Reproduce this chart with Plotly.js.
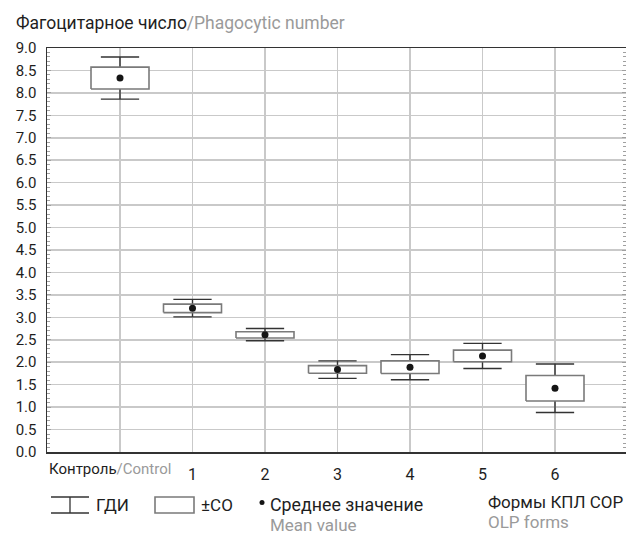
<!DOCTYPE html>
<html>
<head>
<meta charset="utf-8">
<script src="https://cdn.plot.ly/plotly-3.0.1.min.js"></script>
<style>
  html, body { margin: 0; padding: 0; background: #fff; }
  #chart { width: 626px; height: 534px; }
</style>
</head>
<body>
<div id="chart"></div>
<script>
// Phagocytic number by group: mean, ±SD box and confidence-interval whiskers
const categories = ['Контроль/Control', '1', '2', '3', '4', '5', '6'];
const meanValues = [8.33, 3.20, 2.61, 1.84, 1.89, 2.14, 1.42];
const sdValues   = [0.245, 0.095, 0.07, 0.085, 0.14, 0.13, 0.285];
const ciLower    = [7.86, 3.01, 2.48, 1.64, 1.61, 1.86, 0.88];
const ciUpper    = [8.80, 3.40, 2.75, 2.03, 2.17, 2.42, 1.96];
const yTickValues = [0, 0.5, 1, 1.5, 2, 2.5, 3, 3.5, 4, 4.5, 5, 5.5, 6, 6.5, 7, 7.5, 8, 8.5, 9];

const titleMain = 'Фагоцитарное число';
const titleSub = '/Phagocytic number';
const legendCI = 'ГДИ';
const legendSD = '±СО';
const legendMean = ['Среднее значение', 'Mean value'];
const axisNote = ['Формы КПЛ СОР', 'OLP forms'];

const W = 626, H = 534;
const M = { l: 47, r: 0, t: 48, b: 82 };
const FONT = 'Roboto, "Liberation Sans", sans-serif';
const DARK = '#1e1e1e', GREY = '#9a9a9a';

// x axis: one category every 72.5 px, first category 73 px right of the axis
const step = 72.5, firstOffset = 73;
const xRange = [-firstOffset / step, (W - M.l - M.r - firstOffset) / step];
const pos = categories.map((_, i) => i);
const boxHalfWidth = 0.4;

const boxLow = meanValues.map((m, i) => m - sdValues[i]);
const boxHigh = meanValues.map((m, i) => m + sdValues[i]);

// ±SD rectangles as closed outlines, one sub-path per group
const rectX = [], rectY = [];
pos.forEach((p, i) => {
  rectX.push(p - boxHalfWidth, p + boxHalfWidth, p + boxHalfWidth, p - boxHalfWidth, p - boxHalfWidth, null);
  rectY.push(boxLow[i], boxLow[i], boxHigh[i], boxHigh[i], boxLow[i], null);
});

// helpers for placing the legend key in paper units
const plotW = W - M.l - M.r, plotH = H - M.t - M.b;
const px = x => (x - M.l) / plotW;
const py = y => (H - M.b - y) / plotH;

const traces = [
  { // whiskers (confidence interval) with caps; the collapsed box sits under the SD box
    type: 'box', x: pos,
    q1: meanValues, median: meanValues, q3: meanValues,
    lowerfence: ciLower, upperfence: ciUpper,
    width: boxHalfWidth * 2, whiskerwidth: 0.66,
    line: { color: '#333333', width: 1.4 },
    fillcolor: '#ffffff', hoverinfo: 'skip', showlegend: false
  },
  { // ±SD boxes
    type: 'scatter', mode: 'lines', x: rectX, y: rectY,
    fill: 'toself', fillcolor: '#ffffff',
    line: { color: '#7a7a7a', width: 1.6 },
    hoverinfo: 'skip', showlegend: false
  },
  { // mean values
    type: 'scatter', mode: 'markers', x: pos, y: meanValues,
    marker: { color: '#151515', size: 7 },
    hoverinfo: 'skip', showlegend: false
  },
  { // right-hand minor tick scale
    type: 'scatter', mode: 'markers', x: [pos[0]], y: [meanValues[0]],
    yaxis: 'y2', marker: { opacity: 0 }, hoverinfo: 'skip', showlegend: false
  }
];

const annotations = [
  {
    xref: 'x', yref: 'paper', x: xRange[0], y: py(469), xanchor: 'left', yanchor: 'middle',
    text: categories[0].split('/')[0] + '<span style="color:' + GREY + '">/' + categories[0].split('/')[1] + '</span>',
    showarrow: false, font: { family: FONT, size: 15, color: DARK }
  },
  { xref: 'paper', yref: 'paper', x: px(94), y: py(505), xanchor: 'left', yanchor: 'middle',
    text: legendCI, showarrow: false, font: { family: FONT, size: 17, color: DARK } },
  { xref: 'paper', yref: 'paper', x: px(199), y: py(505), xanchor: 'left', yanchor: 'middle',
    text: legendSD, showarrow: false, font: { family: FONT, size: 17, color: DARK } },
  { xref: 'paper', yref: 'paper', x: px(268), y: py(505), xanchor: 'left', yanchor: 'middle',
    text: legendMean[0], showarrow: false, font: { family: FONT, size: 17.8, color: DARK } },
  { xref: 'paper', yref: 'paper', x: px(268), y: py(525), xanchor: 'left', yanchor: 'middle',
    text: legendMean[1], showarrow: false, font: { family: FONT, size: 17, color: GREY } },
  { xref: 'paper', yref: 'paper', x: px(486), y: py(502), xanchor: 'left', yanchor: 'middle',
    text: axisNote[0], showarrow: false, font: { family: FONT, size: 17, color: DARK } },
  { xref: 'paper', yref: 'paper', x: px(486), y: py(522), xanchor: 'left', yanchor: 'middle',
    text: axisNote[1], showarrow: false, font: { family: FONT, size: 17, color: GREY } }
];

const shapes = [
  // CI key
  { type: 'line', xref: 'paper', yref: 'paper', x0: px(51), x1: px(89), y0: py(497), y1: py(497), line: { color: '#333', width: 1.3 } },
  { type: 'line', xref: 'paper', yref: 'paper', x0: px(51), x1: px(89), y0: py(513), y1: py(513), line: { color: '#333', width: 1.3 } },
  { type: 'line', xref: 'paper', yref: 'paper', x0: px(70), x1: px(70), y0: py(497), y1: py(513), line: { color: '#333', width: 1.3 } },
  // SD key
  { type: 'rect', xref: 'paper', yref: 'paper', x0: px(155), x1: px(194), y0: py(497), y1: py(513), line: { color: '#7a7a7a', width: 1.6 }, fillcolor: '#fff' },
  // mean key
  { type: 'circle', xref: 'paper', yref: 'paper', x0: px(259.5), x1: px(264.5), y0: py(500), y1: py(505), line: { color: '#151515', width: 0 }, fillcolor: '#151515' }
];

const layout = {
  width: W, height: H,
  margin: M,
  paper_bgcolor: '#ffffff', plot_bgcolor: '#ffffff',
  font: { family: FONT, color: DARK },
  title: {
    text: titleMain + '<span style="color:' + GREY + '">' + titleSub + '</span>',
    xref: 'container', yref: 'container', x: 16 / W, xanchor: 'left',
    y: 1 - 23 / H, yanchor: 'middle',
    font: { family: FONT, size: 17.5, color: DARK }
  },
  boxmode: 'overlay',
  xaxis: {
    range: xRange, tickvals: pos,
    ticktext: categories.map((c, i) => i === 0 ? '' : c),
    showgrid: true, gridcolor: '#c9c9c9', gridwidth: 1.5,
    showline: true, linecolor: '#333333', linewidth: 1.5, mirror: true,
    ticks: '', zeroline: false, ticklabelstandoff: 7,
    tickfont: { family: FONT, size: 16, color: DARK }, fixedrange: true
  },
  yaxis: {
    range: [0, 9], tickvals: yTickValues, tickformat: '.1f',
    showgrid: true, gridcolor: '#c9c9c9', gridwidth: 1.5,
    showline: true, linecolor: '#333333', linewidth: 1.5,
    ticks: 'inside', ticklen: 4, tickcolor: '#a0a0a0', tickwidth: 1,
    minor: { dtick: 0.1, ticks: 'inside', ticklen: 3, tickcolor: '#a0a0a0', tickwidth: 1, showgrid: false },
    zeroline: false, ticklabelstandoff: 6,
    tickfont: { family: FONT, size: 15, color: DARK }, fixedrange: true
  },
  yaxis2: {
    overlaying: 'y', side: 'right', range: [0, 9], tickvals: yTickValues,
    showgrid: false, showline: false, showticklabels: false, zeroline: false,
    ticks: 'inside', ticklen: 4, tickcolor: '#a0a0a0', tickwidth: 1,
    minor: { dtick: 0.1, ticks: 'inside', ticklen: 3, tickcolor: '#a0a0a0', tickwidth: 1, showgrid: false },
    fixedrange: true
  },
  annotations: annotations,
  shapes: shapes
};

Plotly.newPlot('chart', traces, layout, { displayModeBar: false, staticPlot: true });
</script>
</body>
</html>
